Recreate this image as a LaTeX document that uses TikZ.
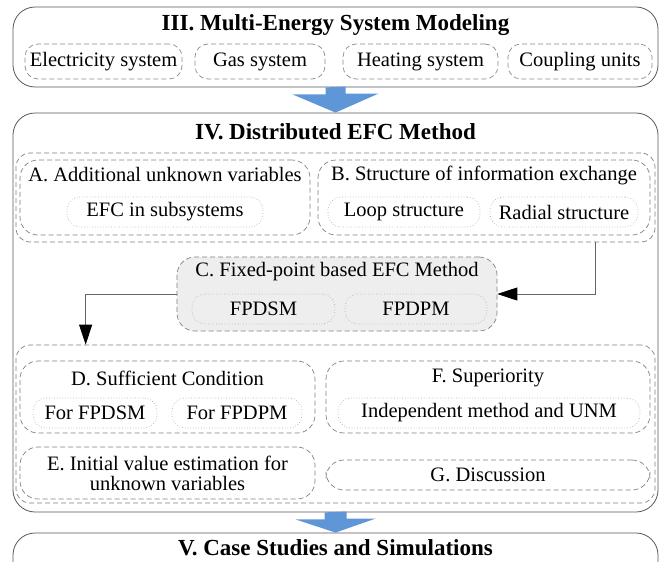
\documentclass[tikz,border=0pt]{standalone}
\usepackage{fontspec}
\setmainfont{Liberation Serif}
\usetikzlibrary{arrows.meta}
\definecolor{flowblue}{RGB}{95,150,215}
\definecolor{methodgray}{RGB}{238,238,238}

\begin{document}
\begin{tikzpicture}[x=1pt, y=-1pt,
  every node/.style={font=\fontsize{20.5}{20}\selectfont, inner sep=0pt, align=center},
  sect/.style={draw=black!65, line width=0.8pt, rounded corners=22pt},
  secttitle/.style={font=\fontsize{23}{23}\selectfont\bfseries},
  grp/.style={draw=black!50, dash pattern=on 5pt off 3pt, line width=0.7pt, rounded corners=14pt},
  part/.style={draw=black!50, dash pattern=on 5pt off 3pt, line width=0.7pt, rounded corners=18pt},
  model/.style={draw=black!45, dash pattern=on 5pt off 3pt, line width=0.7pt, rounded corners=13pt, minimum height=35pt},
  item/.style={draw=black!30, dotted, line width=0.7pt, rounded corners=13pt, minimum height=30pt},
  conn/.style={draw=black!60, line width=0.8pt, -{Triangle[length=20pt, width=13pt, color=black]}},
  flow/.style={fill=flowblue}]
\clip (0,0) rectangle (662,562);
% III
\node[sect, minimum width=645pt, minimum height=80pt] (mes) at (335.5,47) {};
\node[secttitle] (mestitle) at (335.5,25) {III. Multi-Energy System Modeling};
\node[model, minimum width=157pt] (elec) at (103.5,61.5) {Electricity system};
\node[model, minimum width=130pt] (gas) at (260,61.5) {Gas system};
\node[model, minimum width=155pt] (heat) at (420.5,61.5) {Heating system};
\node[model, minimum width=144pt] (coup) at (580,61.5) {Coupling units};
% IV
\node[sect, minimum width=645pt, minimum height=399pt] (dist) at (335.5,312.5) {};
\node[secttitle] (disttitle) at (335.5,132) {IV. Distributed EFC Method};
\node[grp, minimum width=639pt, minimum height=89pt] (ab) at (335.5,197.5) {};
\node[part, minimum width=290pt, minimum height=75pt] (a) at (165,197.5) {};
\node (atitle) at (165,175) {A. Additional unknown variables};
\node[item, minimum width=196pt] (efc) at (165,212) {EFC in subsystems};
\node[part, minimum width=332pt, minimum height=75pt] (b) at (484,197.5) {};
\node (btitle) at (484,175) {B. Structure of information exchange};
\node[item, minimum width=152pt] (loop) at (404,212) {Loop structure};
\node[item, minimum width=148pt] (radial) at (564,212) {Radial structure};
\node[part, fill=methodgray, minimum width=320pt, minimum height=74pt] (c) at (337,294) {};
\node (ctitle) at (337,272) {C. Fixed-point based EFC Method};
\node[item, minimum width=143pt] (fpdsm) at (263.5,309) {FPDSM};
\node[item, minimum width=142pt] (fpdpm) at (416,309) {FPDPM};
\node[grp, minimum width=639pt, minimum height=158pt] (defg) at (335.5,424) {};
\node[part, minimum width=295pt, minimum height=72pt] (d) at (167.5,397) {};
\node (dtitle) at (167.5,378) {D. Sufficient Condition};
\node[item, minimum width=124pt] (ffpdsm) at (95,413) {For FPDSM};
\node[item, minimum width=130pt] (ffpdpm) at (237,413) {For FPDPM};
\node[part, minimum width=324pt, minimum height=72pt] (f) at (488,397) {};
\node (ftitle) at (488,378) {F. Superiority};
\node[item, minimum width=302pt] (indep) at (489,413) {Independent method and UNM};
\node[part, minimum width=295pt, minimum height=52pt] (e) at (167.5,473) {E. Initial value estimation for\\unknown variables};
\node[part, minimum width=324pt, minimum height=30pt] (g) at (488,475) {G. Discussion};
% V
\node[sect, minimum width=645pt, minimum height=70pt] (cs) at (335.5,568) {};
\node[secttitle] (cstitle) at (335.5,548) {V. Case Studies and Simulations};
% connectors
\fill[flow] ([xshift=-10pt]mes.south) -- ++(0,7) -- ++(-33,0) -- (dist.north) -- ++(43,-19) -- ++(-33,0) -- ++(0,-7) -- cycle;
\fill[flow] ([xshift=-11pt]dist.south) -- ++(0,7) -- ++(-29,0) -- (cs.north) -- ++(40,-14) -- ++(-29,0) -- ++(0,-7) -- cycle;
\draw[conn] ([xshift=-60pt]ab.south east) |- (c.east);
\draw[conn] (c.west) -| ([xshift=70pt]defg.north west);
\end{tikzpicture}
\end{document}
